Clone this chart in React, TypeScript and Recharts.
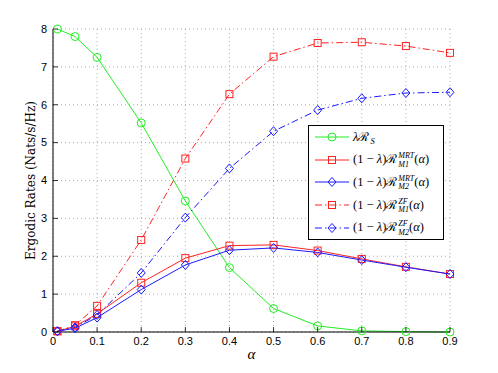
import { LineChart, Line, XAxis, YAxis, CartesianGrid, Legend } from 'recharts';

const ALPHA = [0.01, 0.05, 0.1, 0.2, 0.3, 0.4, 0.5, 0.6, 0.7, 0.8, 0.9];
const RS = [8.0, 7.8, 7.25, 5.52, 3.46, 1.7, 0.62, 0.16, 0.03, 0.01, 0.0];
const MRT_M1 = [0.02, 0.15, 0.48, 1.3, 1.95, 2.28, 2.3, 2.15, 1.93, 1.72, 1.53];
const MRT_M2 = [0.02, 0.1, 0.38, 1.12, 1.77, 2.16, 2.22, 2.1, 1.9, 1.71, 1.53];
const ZF_M1 = [0.02, 0.18, 0.69, 2.43, 4.58, 6.28, 7.27, 7.63, 7.65, 7.55, 7.37];
const ZF_M2 = [0.02, 0.12, 0.45, 1.56, 3.02, 4.32, 5.3, 5.86, 6.17, 6.31, 6.33];

const X_TICKS = [0, 0.1, 0.2, 0.3, 0.4, 0.5, 0.6, 0.7, 0.8, 0.9];
const Y_TICKS = [0, 1, 2, 3, 4, 5, 6, 7, 8];

const rows = ALPHA.map((a, i) => ({
  alpha: a,
  rs: RS[i],
  mrt1: MRT_M1[i],
  mrt2: MRT_M2[i],
  zf1: ZF_M1[i],
  zf2: ZF_M2[i],
}));

const GREEN = '#22ee22';
const RED = '#ff2222';
const BLUE = '#1a1aff';
const DASHDOT = '7 3 1.5 3';
const TICK_FONT = "'Liberation Sans', Arial, sans-serif";
const SERIF = "'Liberation Serif', 'DejaVu Serif', serif";
const WIDE_SERIF = "'DejaVu Serif', serif";

type Marker = 'circle' | 'square' | 'diamond';

const SERIES: { key: string; color: string; dash?: string; marker: Marker; sup?: string; sub: string }[] = [
  { key: 'rs', color: GREEN, marker: 'circle', sub: 'S' },
  { key: 'mrt1', color: RED, marker: 'square', sup: 'MRT', sub: 'M1' },
  { key: 'mrt2', color: BLUE, marker: 'diamond', sup: 'MRT', sub: 'M2' },
  { key: 'zf1', color: RED, dash: DASHDOT, marker: 'square', sup: 'ZF', sub: 'M1' },
  { key: 'zf2', color: BLUE, dash: DASHDOT, marker: 'diamond', sup: 'ZF', sub: 'M2' },
];

function markerShape(kind: Marker, cx: number, cy: number, color: string) {
  if (kind === 'circle') return <circle cx={cx} cy={cy} r={4} fill="none" stroke={color} strokeWidth={1} />;
  if (kind === 'square')
    return <rect x={cx - 3.5} y={cy - 3.5} width={7} height={7} fill="none" stroke={color} strokeWidth={1} />;
  return (
    <polygon
      points={`${cx},${cy - 4.5} ${cx + 4},${cy} ${cx},${cy + 4.5} ${cx - 4},${cy}`}
      fill="none"
      stroke={color}
      strokeWidth={1}
    />
  );
}

const makeDot = (kind: Marker, color: string) => (props: any) => {
  const { cx, cy, index } = props;
  if (cx == null || cy == null) return <g key={index} />;
  return <g key={index}>{markerShape(kind, cx, cy, color)}</g>;
};

const BottomTick = ({ x, y, payload }: any) => (
  <g>
    <line x1={x} x2={x} y1={y - 5} y2={y - 10} stroke="#000" strokeWidth={0.8} />
    <text x={x} y={y} dy="0.71em" textAnchor="middle" fontSize={11} fontFamily={TICK_FONT} fill="#000">
      {payload.value}
    </text>
  </g>
);

const LeftTick = ({ x, y, payload }: any) => (
  <g>
    <line x1={x + 6} x2={x + 11} y1={y} y2={y} stroke="#000" strokeWidth={0.8} />
    <text x={x} y={y} dy="0.35em" textAnchor="end" fontSize={11} fontFamily={TICK_FONT} fill="#000">
      {payload.value}
    </text>
  </g>
);

const TopTick = ({ x, y }: any) => <line x1={x} x2={x} y1={y} y2={y + 5} stroke="#000" strokeWidth={0.8} />;
const RightTick = ({ x, y }: any) => <line x1={x} x2={x - 5} y1={y} y2={y} stroke="#000" strokeWidth={0.8} />;

// stacked superscript / subscript after the script R
const Stack = ({ sup, sub }: { sup?: string; sub: string }) =>
  sup ? (
    <span
      style={{
        display: 'inline-flex',
        flexDirection: 'column',
        fontSize: 8,
        lineHeight: '8.5px',
        fontStyle: 'italic',
        verticalAlign: '5px',
        marginLeft: 1,
      }}
    >
      <span>{sup}</span>
      <span>{sub}</span>
    </span>
  ) : (
    <span style={{ fontSize: 8.5, fontStyle: 'italic', verticalAlign: '-3px', marginLeft: 1 }}>{sub}</span>
  );

const LegendBox = () => (
  <div
    style={{
      width: 134,
      height: 113,
      border: '1px solid #000',
      background: '#fff',
      fontFamily: SERIF,
      fontSize: 12.5,
      color: '#000',
    }}
  >
    {SERIES.map((s) => (
      <div key={s.key} style={{ display: 'flex', alignItems: 'center', height: 22.6 }}>
        <svg width={34} height={14} style={{ marginLeft: 6, marginRight: 4, flex: 'none' }}>
          <line x1={0} x2={34} y1={7} y2={7} stroke={s.color} strokeWidth={1} strokeDasharray={s.dash} />
          {markerShape(s.marker, 17, 7, s.color)}
        </svg>
        <span style={{ whiteSpace: 'nowrap' }}>
          {s.key === 'rs' ? (
            <>
              <i>λ</i>ℛ<Stack sub={s.sub} />
            </>
          ) : (
            <>
              (1 − <i>λ</i>)ℛ
              <Stack sup={s.sup} sub={s.sub} />(<i>α</i>)
            </>
          )}
        </span>
      </div>
    ))}
  </div>
);

export default function App() {
  return (
    <div style={{ position: 'absolute', left: 0, top: 0, width: 498, height: 373, background: '#fff' }}>
      <LineChart width={498} height={373} data={rows} margin={{ top: 29, right: 48, bottom: 0, left: 13 }}>
        <CartesianGrid stroke="#999" strokeDasharray="1 3" strokeWidth={0.8} />
        <XAxis
          dataKey="alpha"
          type="number"
          domain={[0, 0.9]}
          ticks={X_TICKS}
          tickSize={0}
          tickMargin={5}
          tick={<BottomTick />}
          axisLine={{ stroke: '#000' }}
          height={41}
          label={{ value: 'α', position: 'insideBottom', offset: 14, fontFamily: SERIF, fontStyle: 'italic', fontSize: 15, fill: '#000' }}
        />
        <XAxis
          xAxisId="top"
          orientation="top"
          dataKey="alpha"
          type="number"
          domain={[0, 0.9]}
          ticks={X_TICKS}
          tickSize={0}
          tickMargin={0}
          tick={<TopTick />}
          axisLine={{ stroke: '#000' }}
          height={0}
        />
        <YAxis
          type="number"
          domain={[0, 8]}
          ticks={Y_TICKS}
          tickSize={0}
          tickMargin={6}
          tick={<LeftTick />}
          axisLine={{ stroke: '#000' }}
          width={40}
          label={{
            value: 'Ergodic Rates (Nats/s/Hz)',
            angle: -90,
            position: 'insideLeft',
            offset: 18,
            style: { textAnchor: 'middle' },
            fontFamily: WIDE_SERIF,
            fontSize: 12,
            fill: '#000',
          }}
        />
        <YAxis
          yAxisId="right"
          orientation="right"
          type="number"
          domain={[0, 8]}
          ticks={Y_TICKS}
          tickSize={0}
          tickMargin={0}
          tick={<RightTick />}
          axisLine={{ stroke: '#000' }}
          width={0}
        />
        {SERIES.map((s) => (
          <Line
            key={s.key}
            dataKey={s.key}
            type="linear"
            stroke={s.color}
            strokeWidth={1}
            strokeDasharray={s.dash}
            dot={makeDot(s.marker, s.color)}
            activeDot={false}
            isAnimationActive={false}
          />
        ))}
        <Legend
          layout="vertical"
          align="center"
          verticalAlign="middle"
          content={<LegendBox />}
          wrapperStyle={{ position: 'absolute', left: 308, top: 125, width: 136 }}
        />
      </LineChart>
    </div>
  );
}
